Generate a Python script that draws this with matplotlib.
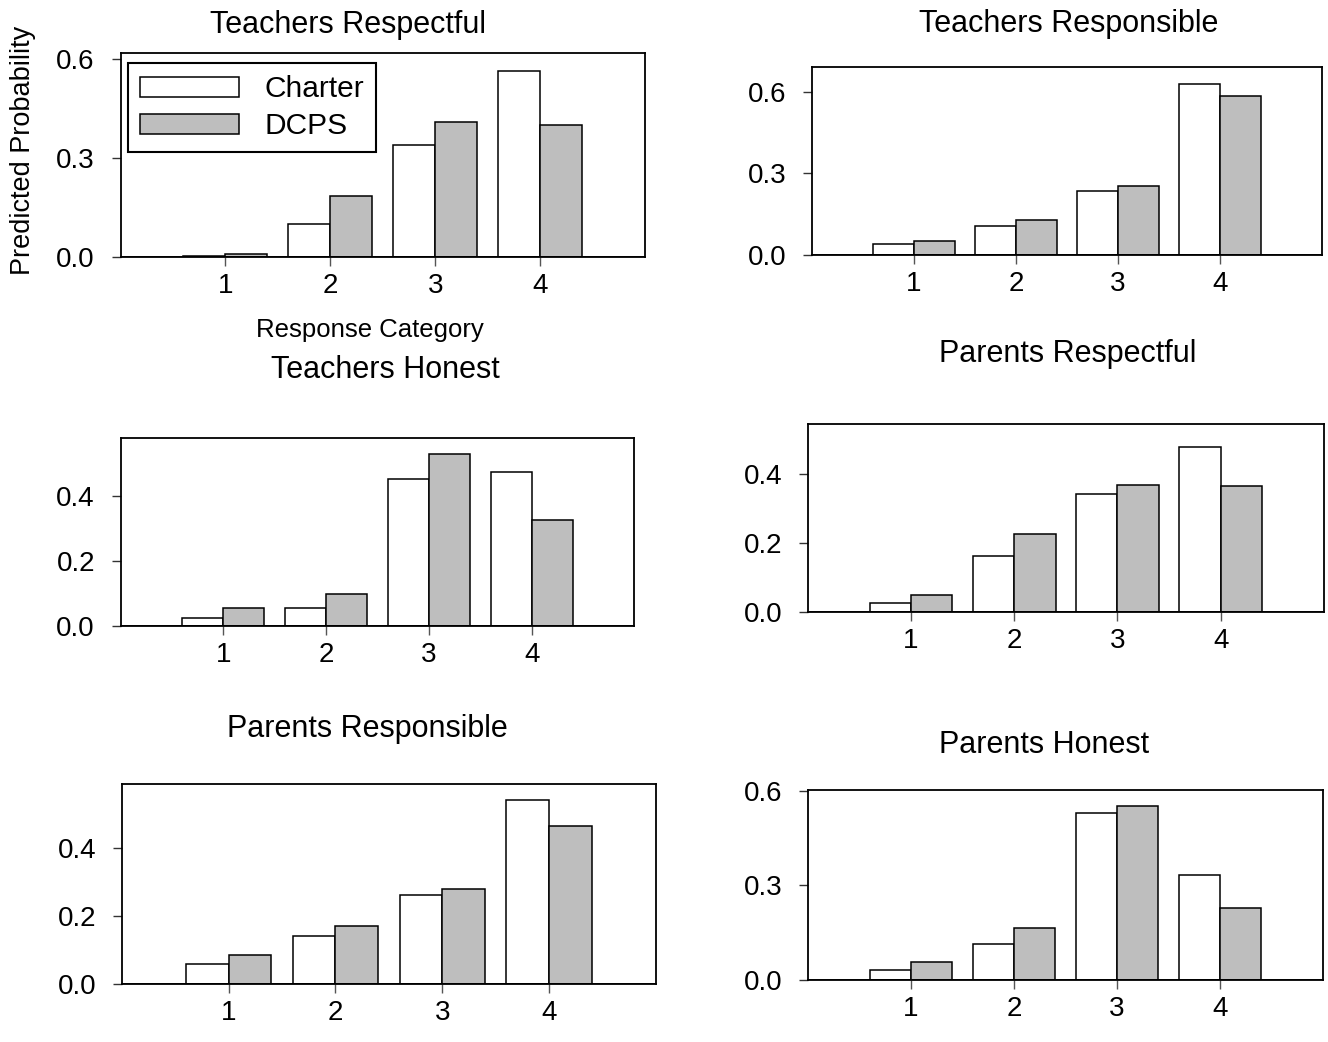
import numpy as np
import matplotlib
matplotlib.use("Agg")
import matplotlib.pyplot as plt

plt.rcParams["font.family"] = ["Liberation Sans", "DejaVu Sans"]

categories = [1, 2, 3, 4]
titles = ["Teachers Respectful", "Teachers Responsible", "Teachers Honest",
          "Parents Respectful", "Parents Responsible", "Parents Honest"]
charter = [
    [0.004, 0.100, 0.341, 0.564],
    [0.040, 0.106, 0.235, 0.629],
    [0.025, 0.056, 0.454, 0.474],
    [0.026, 0.160, 0.341, 0.477],
    [0.061, 0.141, 0.263, 0.543],
    [0.030, 0.112, 0.531, 0.332],
]
dcps = [
    [0.008, 0.186, 0.411, 0.402],
    [0.050, 0.128, 0.254, 0.582],
    [0.056, 0.097, 0.529, 0.326],
    [0.049, 0.225, 0.367, 0.363],
    [0.085, 0.172, 0.280, 0.467],
    [0.057, 0.164, 0.551, 0.229],
]
y_top = [0.621, 0.689, 0.578, 0.544, 0.590, 0.603]
y_ticks = [[0, 0.3, 0.6], [0, 0.3, 0.6], [0, 0.2, 0.4],
           [0, 0.2, 0.4], [0, 0.2, 0.4], [0, 0.3, 0.6]]

W, H = 1328, 1042
fig = plt.figure(figsize=(W / 100, H / 100), dpi=100)

# axes boxes in pixels: left, right, top, bottom
boxes = [(120.5, 645, 52.5, 257), (812, 1322, 67.3, 255),
         (120.6, 634.5, 438.3, 625.7), (807.7, 1324, 424, 611.7),
         (121.8, 656, 783.7, 984.3), (807.7, 1323, 790, 979.7)]
# title centre x, baseline y in pixels
title_pos = [(348, 32.7), (1069, 31.7), (385, 378.3),
             (1068, 361.7), (367, 736.7), (1044, 753.3)]

gray = "#bebebe"
x = np.array(categories)
for i in range(6):
    l, r, t, b = boxes[i]
    ax = fig.add_axes([l / W, 1 - b / H, (r - l) / W, (b - t) / H])
    c_bars = ax.bar(x - 0.2, charter[i], width=0.4, color="white",
                    edgecolor="black", linewidth=1.1, label="Charter")
    d_bars = ax.bar(x + 0.2, dcps[i], width=0.4, color=gray,
                    edgecolor="black", linewidth=1.1, label="DCPS")
    ax.axhline(0, color="black", linewidth=1.3, zorder=3)
    ax.set_xlim(0, 5)
    ax.set_ylim(0, y_top[i])
    ax.set_xticks(categories)
    ax.set_yticks(y_ticks[i])
    ax.set_yticklabels(["%.1f" % v for v in y_ticks[i]])
    ax.tick_params(axis="x", length=6.5, width=1, color="#555555",
                   labelsize=20, pad=5)
    ax.tick_params(axis="y", length=6.5, width=1, color="#333333",
                   labelsize=20, pad=12)
    for s in ax.spines.values():
        s.set_linewidth(1.3)
    fig.text(title_pos[i][0] / W, 1 - title_pos[i][1] / H, titles[i],
             ha="center", va="baseline", fontsize=22)
    if i == 0:
        leg = ax.legend(handles=[c_bars, d_bars], loc="upper left",
                        bbox_to_anchor=((128.3 - l) / (r - l), 1 - (63.3 - t) / (b - t)),
                        borderaxespad=0, fontsize=21.5, frameon=True,
                        fancybox=False, edgecolor="black", framealpha=1,
                        handlelength=3.3, handleheight=0.64,
                        handletextpad=0.85, labelspacing=0.3,
                        borderpad=0.4)
        leg.get_frame().set_linewidth(1.5)

fig.text(370 / W, 1 - 336.7 / H, "Response Category", ha="center",
         va="baseline", fontsize=18.5)
fig.text(23 / W, 1 - 150 / H, "Predicted Probability", ha="center",
         va="center", rotation=90, fontsize=19.5)

fig.savefig("out.png", dpi=100)
